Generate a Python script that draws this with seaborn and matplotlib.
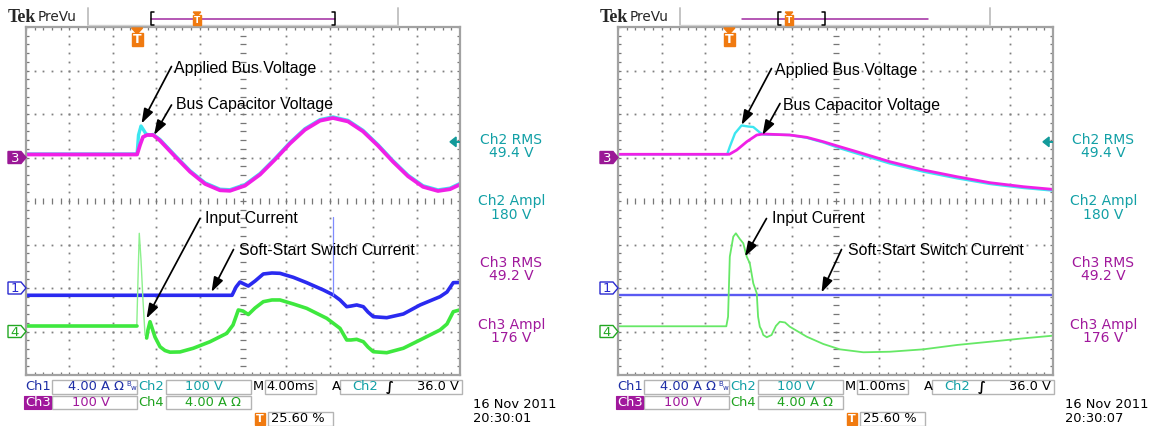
import numpy as np
import pandas as pd
import matplotlib
matplotlib.use("Agg")
import matplotlib.pyplot as plt
from matplotlib.lines import Line2D
from matplotlib.patches import Polygon, Rectangle, FancyArrowPatch
import seaborn as sns

# ---------------- scope settings ----------------
VOLTS_PER_DIV = 100.0            # Ch2, Ch3
AMPS_PER_DIV = 4.0               # Ch1, Ch4
TRIG_PERCENT = 25.60             # trigger point, % of record
TRIG_LEVEL_V = 36.0              # Ch2 rising-edge trigger level
CH_POS = {"ch1": -2.0, "ch2": 1.0, "ch3": 1.0, "ch4": -3.0}   # divisions

A_MS_PER_DIV = 4.0
B_MS_PER_DIV = 1.0
A_TIMEBASE = "4.00ms"
B_TIMEBASE = "1.00ms"
A_STAMP = ("16 Nov 2011", "20:30:01")
B_STAMP = ("16 Nov 2011", "20:30:07")

MEAS_LABELS = ["Ch2 RMS", "Ch2 Ampl", "Ch3 RMS", "Ch3 Ampl"]
MEAS_VALUES = ["49.4 V", "180 V", "49.2 V", "176 V"]

# ---------------- capture A (4 ms/div) ----------------
# Ch3: bus capacitor voltage [V]
a_ch3_t = [-10.24, 0.0, 0.27, 0.54, 0.91, 1.47, 2.11, 3.49, 4.88, 6.26, 7.64, 8.56,
           9.94, 11.33, 12.71, 14.09, 15.47, 16.86, 18.05, 19.44, 20.82, 22.20,
           23.58, 24.97, 26.35, 27.73, 28.84, 29.76]
a_ch3_v = [6.9, 6.9, 28.7, 47.1, 51.7, 51.7, 38.9, 2.5, -32.9, -60.7, -75.4, -76.6,
           -64.8, -39.3, -4.8, 32.0, 63.7, 84.6, 90.8, 82.8, 60.0, 27.1,
           -9.7, -43.2, -67.4, -77.0, -72.9, -62.1]
# Ch2: applied bus voltage [V]
a_ch2_t = [-10.24, 0.0, 0.13, 0.36, 0.54, 0.82, 1.19, 1.47, 2.11, 3.49, 4.88, 6.26,
           7.64, 8.56, 9.94, 11.33, 12.71, 14.09, 15.47, 16.86, 18.05, 19.44,
           20.82, 22.20, 23.58, 24.97, 26.35, 27.73, 28.84, 29.76]
a_ch2_v = [8.0, 8.0, 51.7, 72.4, 65.5, 54.0, 51.7, 53.0, 41.4, 5.0, -30.4, -58.2,
           -72.9, -74.1, -62.3, -36.8, -2.3, 34.5, 66.2, 87.1, 93.3, 85.3,
           62.5, 29.6, -7.2, -40.7, -64.9, -74.5, -70.4, -59.6]
# Ch1: soft-start switch current [A]
a_ch1_t = [-10.24, 8.75, 9.12, 9.48, 9.85, 10.25, 10.87, 11.63, 12.43, 13.17, 14.40,
           15.63, 17.16, 18.08, 18.70, 19.32, 19.71, 20.24, 20.85, 21.28, 21.77,
           23.01, 24.54, 26.08, 27.92, 28.56, 29.14, 29.72]
a_ch1_a = [-0.67, -0.67, 0.09, 0.55, 0.37, 0.18, 0.64, 1.29, 1.38, 1.35, 0.98,
           0.49, -0.18, -0.64, -1.10, -1.72, -1.66, -1.56, -1.72, -2.21, -2.64,
           -2.73, -2.39, -1.56, -0.80, -0.37, 0.49, 0.51]
a_ch1_glitch_t = 18.08
a_ch1_glitch_a = [-0.64, 6.53]
# Ch4: input current [A]
a_ch4_t = [-10.24, -0.03, 0.08, 0.20, 0.36, 0.54, 0.73, 0.88, 1.00, 1.19, 1.38, 1.65,
           2.11, 2.57, 3.03, 3.95, 5.18, 6.72, 8.26, 8.84, 9.33, 9.76, 10.25, 10.87,
           11.63, 12.43, 13.17, 14.40, 15.63, 17.48, 18.70, 19.32, 19.71, 20.24,
           20.85, 21.28, 21.77, 23.01, 24.54, 26.08, 27.92, 28.56, 29.14, 29.72]
a_ch4_a = [0.48, 0.48, 4.74, 9.03, 6.57, 2.90, -0.32, -0.60, 0.14, 0.90, 0.32, -0.51,
           -1.40, -1.75, -1.90, -1.88, -1.54, -0.94, -0.17, 0.60, 1.98, 1.88, 1.56, 2.16,
           2.74, 2.90, 2.90, 2.53, 2.13, 1.21, 0.29, -0.78, -0.78, -0.72,
           -0.94, -1.43, -1.86, -1.95, -1.54, -0.78, 0.14, 0.69, 1.82, 1.98]

# ---------------- capture B (1 ms/div) ----------------
b_ch3_t = [-2.56, 0.0, 0.17, 0.40, 0.63, 0.78, 1.39, 1.78, 2.16, 2.54, 2.93, 3.69,
           4.46, 5.23, 5.99, 6.76, 7.42]
b_ch3_v = [7.4, 7.4, 17.2, 36.3, 51.7, 54.0, 51.7, 46.4, 36.3, 24.8, 13.3, -9.7,
           -28.7, -44.1, -57.9, -67.1, -73.1]
b_ch2_t = [-2.56, -0.05, 0.01, 0.13, 0.28, 0.43, 0.55, 0.70, 0.78, 1.39, 1.78, 2.16,
           2.54, 2.93, 3.69, 4.46, 5.23, 5.99, 6.76, 7.42]
b_ch2_v = [7.4, 7.4, 24.8, 55.6, 73.6, 71.3, 70.1, 57.5, 52.9, 51.7, 45.3, 34.5,
           21.2, 9.2, -13.8, -32.6, -47.8, -60.9, -70.1, -75.9]
b_ch1_t = [-2.56, 7.44]
b_ch1_a = [-0.67, -0.67]
b_ch4_t = [-2.56, -0.07, -0.03, 0.01, 0.09, 0.15, 0.24, 0.32, 0.40, 0.47, 0.55, 0.63,
           0.66, 0.70, 0.74, 0.78, 0.86, 0.97, 1.07, 1.16, 1.28, 1.39, 1.78, 2.16,
           2.54, 3.08, 3.69, 4.46, 5.23, 5.99, 6.76, 7.42]
b_ch4_a = [0.48, 0.48, 1.36, 6.88, 8.72, 9.03, 8.51, 8.11, 6.88, 6.27, 4.43, 3.51,
           1.36, 0.44, 0.14, -0.32, -0.53, -0.32, 0.51, 0.90, 0.83, 0.44, -0.48, -1.15,
           -1.64, -1.91, -1.86, -1.64, -1.24, -0.94, -0.63, -0.39]

# ---------------- colours ----------------
C_CH1, C_CH2, C_CH3, C_CH4 = "#2a2af0", "#3ce6f0", "#f020e6", "#3ee83e"
T_CH1, T_CH2, T_CH3, T_CH4 = "#1e2ea6", "#12a0a6", "#a0189c", "#1fa31f"
ORANGE = "#f07a10"
GRID = "#808080"
FRAME = "#a2a2a2"

W, H = 1154, 426
sns.set_style("white")
plt.rcParams["font.family"] = ["DejaVu Sans"]
fig = plt.figure(figsize=(W / 100, H / 100), dpi=100, facecolor="white")

GRID_TOP, GRID_BOT = 27, 375


def fx(x):
    return x / W


def fy(y):
    return 1 - y / H


def fline(xs, ys, **kw):
    fig.add_artist(Line2D([fx(v) for v in xs], [fy(v) for v in ys],
                          transform=fig.transFigure, **kw))


def fpoly(pts, **kw):
    fig.add_artist(Polygon([(fx(x), fy(y)) for x, y in pts], closed=True,
                           transform=fig.transFigure, **kw))


def frect(x0, y0, x1, y1, **kw):
    fig.add_artist(Rectangle((fx(x0), fy(y1)), fx(x1) - fx(x0), fy(y0) - fy(y1),
                             transform=fig.transFigure, **kw))


def ftext(x, y, s, **kw):
    fig.text(fx(x), fy(y), s, **kw)


def make_scope(left, width):
    ax = fig.add_axes([fx(left), fy(GRID_BOT), width / W, (GRID_BOT - GRID_TOP) / H])
    ax.set_xlim(0, 10)
    ax.set_ylim(-4, 4)
    ax.set_xticks([])
    ax.set_yticks([])
    ax.set_facecolor("white")
    for s in ax.spines.values():
        s.set_color(FRAME)
        s.set_linewidth(1.6)
        s.set_zorder(6)
    fine_x = np.round(np.arange(0, 10.001, 0.2), 3)
    fine_y = np.round(np.arange(-4, 4.001, 0.2), 3)
    dot = dict(ls="none", marker="s", ms=1.3, mew=0, color=GRID, zorder=1)
    for gx in range(1, 10):
        if gx != 5:
            ax.plot(np.full_like(fine_y, gx), fine_y, **dot)
    for gy in range(-3, 4):
        if gy != 0:
            ax.plot(fine_x, np.full_like(fine_x, gy), **dot)
    tick = dict(ls="none", ms=4.6, mew=0.9, color="#777777", zorder=1)
    ax.plot(np.full_like(fine_y, 5), fine_y, marker="_", **tick)
    ax.plot(fine_x, np.zeros_like(fine_x), marker="|", **tick)
    ax.plot(np.zeros_like(fine_y), fine_y, marker="_", **tick)
    ax.plot(np.full_like(fine_y, 10), fine_y, marker="_", **tick)
    ax.plot(fine_x, np.full_like(fine_x, -4), marker="|", **tick)
    ax.plot(fine_x, np.full_like(fine_x, 4), marker="|", **tick)
    # trigger-level pointer on the right edge
    ly = CH_POS["ch2"] + TRIG_LEVEL_V / VOLTS_PER_DIV
    ax.add_patch(Polygon([(9.77, ly), (9.91, ly + 0.11), (9.91, ly - 0.11)],
                         closed=True, color="#129a9a", zorder=7, clip_on=False))
    ax.plot([9.88, 10.0], [ly, ly], color="#129a9a", lw=1.4, zorder=7)
    return ax


def trace(ax, t, val, ms_div, unit_div, pos, color, lw, alpha=1.0, z=3):
    t = np.asarray(t, float)
    val = np.asarray(val, float)
    df = pd.DataFrame({"div_x": t / ms_div + TRIG_PERCENT / 10.0,
                       "div_y": val / unit_div + pos})
    sns.lineplot(data=df, x="div_x", y="div_y", ax=ax, color=color, lw=lw,
                 alpha=alpha, sort=False, estimator=None, legend=False, zorder=z,
                 solid_capstyle="round", solid_joinstyle="round")
    ax.set_xlabel("")
    ax.set_ylabel("")


axA = make_scope(26, 434)
axB = make_scope(618, 435)

# ---- capture A traces ----
trace(axA, a_ch1_t, a_ch1_a, A_MS_PER_DIV, AMPS_PER_DIV, CH_POS["ch1"], C_CH1, 2.6)
gx = a_ch1_glitch_t / A_MS_PER_DIV + TRIG_PERCENT / 10.0
axA.plot([gx, gx], np.asarray(a_ch1_glitch_a) / AMPS_PER_DIV + CH_POS["ch1"],
         color="#7f8cff", lw=0.9, zorder=3)
t4 = np.asarray(a_ch4_t)
v4 = np.asarray(a_ch4_a)
pre, fast, post = t4 <= -0.03, (t4 >= -0.03) & (t4 <= 0.88), t4 >= 0.88
trace(axA, t4[fast], v4[fast], A_MS_PER_DIV, AMPS_PER_DIV, CH_POS["ch4"], "#8cf08c", 1.0)
trace(axA, t4[pre], v4[pre], A_MS_PER_DIV, AMPS_PER_DIV, CH_POS["ch4"], C_CH4, 2.6)
trace(axA, t4[post], v4[post], A_MS_PER_DIV, AMPS_PER_DIV, CH_POS["ch4"], C_CH4, 2.6)
trace(axA, a_ch2_t, a_ch2_v, A_MS_PER_DIV, VOLTS_PER_DIV, CH_POS["ch2"], C_CH2, 2.4)
trace(axA, a_ch3_t, a_ch3_v, A_MS_PER_DIV, VOLTS_PER_DIV, CH_POS["ch3"], C_CH3, 2.7, z=4)

# ---- capture B traces ----
trace(axB, b_ch1_t, b_ch1_a, B_MS_PER_DIV, AMPS_PER_DIV, CH_POS["ch1"], "#5a5af2", 1.7)
trace(axB, b_ch4_t, b_ch4_a, B_MS_PER_DIV, AMPS_PER_DIV, CH_POS["ch4"], "#66e866", 1.3)
trace(axB, b_ch2_t, b_ch2_v, B_MS_PER_DIV, VOLTS_PER_DIV, CH_POS["ch2"], C_CH2, 1.7)
trace(axB, b_ch3_t, b_ch3_v, B_MS_PER_DIV, VOLTS_PER_DIV, CH_POS["ch3"], C_CH3, 2.0, z=4)

# ---- callouts ----
NOTE = dict(fontsize=11.4, family=["Liberation Sans", "DejaVu Sans"], color="black",
            ha="left", va="center", zorder=10)
callouts = [
    # text, text x, text y, arrow tail, arrow tip  (figure pixels)
    ("Applied Bus Voltage", 174, 69, (171.5, 66.5), (141.5, 123.5)),
    ("Bus Capacitor Voltage", 175.5, 105, (171.5, 105.0), (154.0, 135.0)),
    ("Input Current", 205, 219, (200.0, 218.5), (146.5, 318.5)),
    ("Soft-Start Switch Current", 239, 250.5, (233.5, 249.5), (211.5, 292.0)),
    ("Applied Bus Voltage", 775, 70, (771.5, 68.5), (741.5, 125.0)),
    ("Bus Capacitor Voltage", 782.5, 105.5, (780.0, 103.5), (762.5, 135.0)),
    ("Input Current", 771.5, 219, (766.5, 218.5), (745.0, 256.5)),
    ("Soft-Start Switch Current", 847.5, 250.5, (841.5, 249.5), (821.5, 292.5)),
]
for s, tx, ty, tail, tip in callouts:
    ftext(tx, ty, s, **NOTE)
    fig.add_artist(FancyArrowPatch(
        (fx(tail[0]), fy(tail[1])), (fx(tip[0]), fy(tip[1])),
        transform=fig.transFigure,
        arrowstyle="-|>,head_length=0.8,head_width=0.27", mutation_scale=11,
        color="black", lw=1.25, shrinkA=0, shrinkB=0, zorder=10))


# ---- screen furniture ----
def trig_icon(xc, ytop, w, tri_h, box_h, fs, tri=True):
    if tri:
        fpoly([(xc - w / 2, ytop), (xc + w / 2, ytop), (xc, ytop + tri_h + 1)],
              color=ORANGE, zorder=8)
        y0 = ytop + tri_h
    else:
        y0 = ytop
    frect(xc - w / 2, y0, xc + w / 2, y0 + box_h, color=ORANGE, zorder=8)
    ftext(xc, y0 + box_h / 2 + 0.3, "T", fontsize=fs, color="white", weight="bold",
          ha="center", va="center", zorder=9)


def chan_tag(x0, yc, label, color, filled):
    pts = [(x0, yc - 6), (x0 + 13, yc - 6), (x0 + 18, yc), (x0 + 13, yc + 6), (x0, yc + 6)]
    if filled:
        fpoly(pts, facecolor=color, edgecolor=color, lw=1, zorder=8)
        ftext(x0 + 7, yc + 0.5, label, fontsize=9.5, color="white", ha="center",
              va="center", zorder=9)
    else:
        fpoly(pts, facecolor="white", edgecolor=color, lw=1, zorder=8)
        ftext(x0 + 7, yc + 0.5, label, fontsize=9.5, color=color, ha="center",
              va="center", zorder=9)


def ch_px(pos):
    return 201 - pos * 43.5


def screen(dx, rec, timebase, stamp, grid_left, grid_w):
    # header
    ftext(8 + dx, 17.5, "Tek", fontsize=13, family=["Liberation Serif"],
          weight="bold", va="center")
    ftext(38 + dx, 17, "PreVu", fontsize=9.8, va="center")
    for sx in (88 + dx, 398 + dx):
        fline([sx, sx], [8, 25], color="#c4c4c4", lw=1.4)
    fline([88 + dx, 398 + dx], [25, 25], color="#d0d0d0", lw=1.0)
    # record bar
    lx0, lx1, bl, br, tx = rec
    fline([lx0, lx1], [18.5, 18.5], color="#a02aa0", lw=1.1, zorder=5)
    fline([bl + 3, bl, bl, bl + 3], [12, 12, 24.5, 24.5], color="black", lw=1.1, zorder=6)
    fline([br - 3, br, br, br - 3], [12, 12, 24.5, 24.5], color="black", lw=1.1, zorder=6)
    trig_icon(tx, 12, 7.5, 3, 10, 6.5)
    # trigger position marker above the graticule
    trig_icon(grid_left + grid_w * TRIG_PERCENT / 100.0, 28, 11, 5, 13, 9)
    # channel reference tags
    chan_tag(grid_left - 18, ch_px(CH_POS["ch3"]), "3", "#9a1896", True)
    chan_tag(grid_left - 18, ch_px(CH_POS["ch1"]), "1", "#2a2ad0", False)
    chan_tag(grid_left - 18, ch_px(CH_POS["ch4"]), "4", "#22a822", False)
    # measurement readouts
    mx = 511.5 + dx
    ys = [(140.5, 153.5), (201.5, 215), (263, 276.5), (325, 338.5)]
    for (lab, val), (y1, y2) in zip(zip(MEAS_LABELS, MEAS_VALUES), ys):
        col = T_CH2 if lab.startswith("Ch2") else T_CH3
        ftext(mx, y1, lab, fontsize=10, color=col, ha="center", va="center")
        ftext(mx, y2, val, fontsize=10, color=col, ha="center", va="center")
    # status bar
    box = dict(facecolor="white", edgecolor="#b4b4b4", lw=1.0, zorder=2)
    fs = 9.4
    r1, r2, r3 = 387, 402.5, 419
    frect(52 + dx, 380, 137 + dx, 394, **box)
    frect(166 + dx, 380, 251 + dx, 394, **box)
    frect(265 + dx, 380, 316 + dx, 394, **box)
    frect(340 + dx, 380, 462 + dx, 394, **box)
    frect(52 + dx, 396, 137 + dx, 409, **box)
    frect(166 + dx, 396, 251 + dx, 409, **box)
    frect(268 + dx, 412, 333 + dx, 426, **box)
    ftext(25 + dx, r1, "Ch1", fontsize=fs, color=T_CH1, va="center")
    ftext(68 + dx, r1, "4.00 A Ω", fontsize=fs, color=T_CH1, va="center")
    ftext(126.5 + dx, r1 - 2.5, "B", fontsize=5, color=T_CH1, va="center")
    ftext(130.5 + dx, r1 + 1.5, "w", fontsize=5, color=T_CH1, va="center")
    ftext(138 + dx, r1, "Ch2", fontsize=fs, color=T_CH2, va="center")
    ftext(204 + dx, r1, "100 V", fontsize=fs, color=T_CH2, va="center", ha="center")
    ftext(253 + dx, r1, "M", fontsize=fs, color="black", va="center")
    ftext(266 + dx, r1, timebase, fontsize=fs, color="black", va="center")
    ftext(332 + dx, r1, "A", fontsize=fs, color="black", va="center")
    ftext(352 + dx, r1, "Ch2", fontsize=fs, color=T_CH2, va="center")
    ftext(390 + dx, r1, "∫", fontsize=fs, color="black", va="center", ha="center",
          weight="bold")
    ftext(459 + dx, r1, f"{TRIG_LEVEL_V:.1f} V", fontsize=fs, color="black",
          va="center", ha="right")
    frect(24 + dx, 396, 51 + dx, 409, facecolor="#a0189c", edgecolor="#a0189c", lw=0.8,
          zorder=3)
    ftext(25.5 + dx, r2, "Ch3", fontsize=fs, color="white", va="center", zorder=4)
    ftext(72 + dx, r2, "100 V", fontsize=fs, color=T_CH3, va="center")
    ftext(138 + dx, r2, "Ch4", fontsize=fs, color=T_CH4, va="center")
    ftext(185 + dx, r2, "4.00 A Ω", fontsize=fs, color=T_CH4, va="center")
    trig_icon(260 + dx, 413, 10, 0, 12, 8, tri=False)
    ftext(271 + dx, r3, f"{TRIG_PERCENT:.2f} %", fontsize=fs, color="black",
          va="center")
    ftext(473 + dx, 405, stamp[0], fontsize=fs, color="black", va="center")
    ftext(473 + dx, 419, stamp[1], fontsize=fs, color="black", va="center")


screen(0, (151, 335, 151, 335, 197), A_TIMEBASE, A_STAMP, 26, 434)
screen(592, (742, 928, 778, 825, 789), B_TIMEBASE, B_STAMP, 618, 435)

fig.savefig("out.png", dpi=100, facecolor="white")
